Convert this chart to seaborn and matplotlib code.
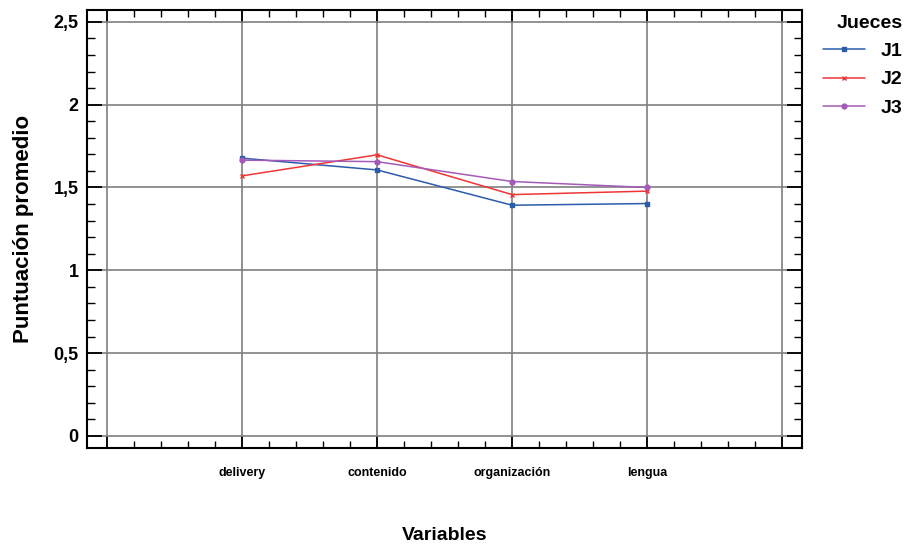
import pandas as pd
import matplotlib
matplotlib.use("Agg")
import matplotlib.pyplot as plt
import seaborn as sns
from matplotlib.ticker import FixedLocator, MultipleLocator, FuncFormatter

# datos
variables = ["delivery", "contenido", "organización", "lengua"]
jueces = ["J1", "J2", "J3"]
j1 = [1.677, 1.606, 1.393, 1.403]
j2 = [1.570, 1.697, 1.457, 1.478]
j3 = [1.665, 1.656, 1.536, 1.500]
yticks = [0, 0.5, 1, 1.5, 2, 2.5]

colores = {"J1": "#2a5caa", "J2": "#f03535", "J3": "#a45ab8"}
marcadores = {"J1": "s", "J2": "x", "J3": "o"}

df = pd.DataFrame({
    "Variables": variables * 3,
    "Puntuación": j1 + j2 + j3,
    "Juez": [j for j in jueces for _ in variables],
})

sns.set_style("white")
plt.rcParams["font.family"] = ["Liberation Sans Narrow", "Liberation Sans", "DejaVu Sans"]
plt.rcParams.update({"text.color": "black", "axes.labelcolor": "black",
                     "xtick.color": "black", "ytick.color": "black"})

fig = plt.figure(figsize=(9.13, 5.5), dpi=100)
ax = fig.add_axes([0.0953, 0.1855, 0.7832, 0.7965])

# una linea por juez (marcadores rellenos y de linea no se pueden mezclar)
for j in jueces:
    sub = df[df["Juez"] == j]
    sns.lineplot(data=sub, x="Variables", y="Puntuación", color=colores[j],
                 marker=marcadores[j], linewidth=1.1, markersize=3.5,
                 markeredgewidth=1.0, markeredgecolor=colores[j],
                 sort=False, ax=ax, label=j, legend=False)

ax.set_xlim(-1.148, 4.148)
ax.set_ylim(-0.0725, 2.572)

# ticks y rejilla
ax.xaxis.set_major_locator(FixedLocator([-1, 0, 1, 2, 3, 4]))
ax.xaxis.set_minor_locator(MultipleLocator(0.2))
ax.set_xticklabels(["", *variables, ""])
ax.yaxis.set_major_locator(FixedLocator(yticks))
ax.yaxis.set_minor_locator(MultipleLocator(0.1))
ax.yaxis.set_major_formatter(FuncFormatter(lambda v, p: f"{v:g}".replace(".", ",")))

ax.grid(True, which="major", color="#7f7f7f", linewidth=1.2)
ax.tick_params(which="both", direction="in", left=True, bottom=True, top=True,
               right=True, color="black")
ax.tick_params(which="major", length=11, width=1.3)
ax.tick_params(which="minor", length=6, width=1.0)
ax.tick_params(axis="x", which="major", length=9)
ax.tick_params(axis="x", which="minor", length=5)
ax.tick_params(axis="y", labelsize=13, pad=6)
ax.tick_params(axis="x", labelsize=9, pad=14)
for lab in ax.get_yticklabels() + ax.get_xticklabels():
    lab.set_fontweight("bold")
for s in ax.spines.values():
    s.set_color("black")
    s.set_linewidth(1.5)

ax.set_xlabel("Variables", fontsize=14, fontweight="bold", labelpad=34)
ax.set_ylabel("Puntuación promedio", fontsize=16, fontweight="bold", labelpad=14,
              family=["Liberation Sans", "DejaVu Sans"])

# leyenda
handles = [plt.Line2D([], [], color=colores[j], marker=marcadores[j], markersize=3.5,
                      linewidth=1.1) for j in jueces]
leg = fig.legend(handles, jueces, title="Jueces", loc="upper right",
                 bbox_to_anchor=(1.008, 1.005), frameon=False, fontsize=14,
                 title_fontsize=14, handlelength=2.2, labelspacing=0.55,
                 handletextpad=0.8, alignment="right")
for t in leg.get_texts():
    t.set_fontweight("bold")
leg.get_title().set_fontweight("bold")

fig.savefig("out.png", dpi=100)
